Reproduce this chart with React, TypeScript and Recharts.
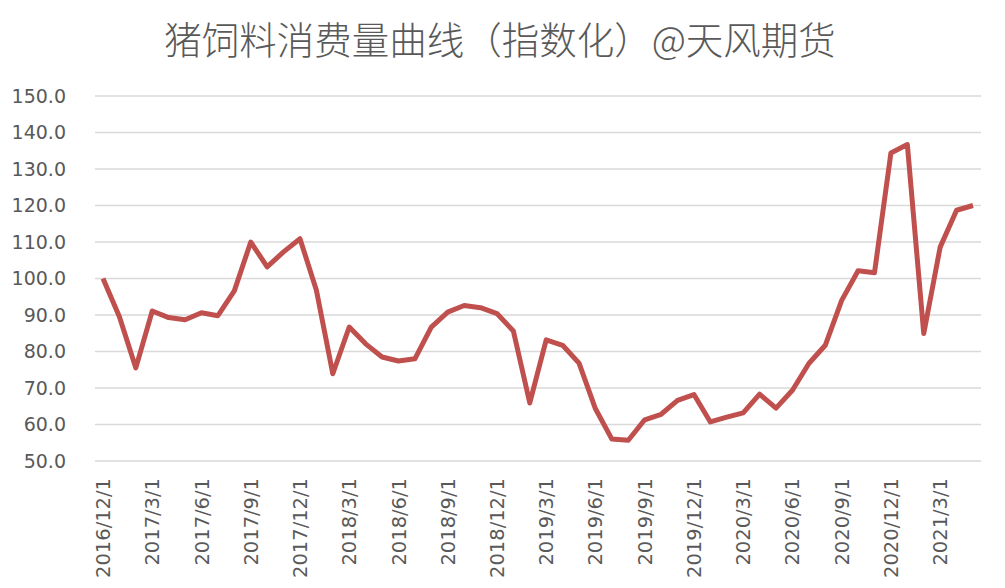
import { LineChart, Line, CartesianGrid, XAxis, YAxis } from "recharts";

const months = [
  "2016/12/1",
  "2017/1/1", "2017/2/1", "2017/3/1", "2017/4/1", "2017/5/1", "2017/6/1",
  "2017/7/1", "2017/8/1", "2017/9/1", "2017/10/1", "2017/11/1", "2017/12/1",
  "2018/1/1", "2018/2/1", "2018/3/1", "2018/4/1", "2018/5/1", "2018/6/1",
  "2018/7/1", "2018/8/1", "2018/9/1", "2018/10/1", "2018/11/1", "2018/12/1",
  "2019/1/1", "2019/2/1", "2019/3/1", "2019/4/1", "2019/5/1", "2019/6/1",
  "2019/7/1", "2019/8/1", "2019/9/1", "2019/10/1", "2019/11/1", "2019/12/1",
  "2020/1/1", "2020/2/1", "2020/3/1", "2020/4/1", "2020/5/1", "2020/6/1",
  "2020/7/1", "2020/8/1", "2020/9/1", "2020/10/1", "2020/11/1", "2020/12/1",
  "2021/1/1", "2021/2/1", "2021/3/1", "2021/4/1", "2021/5/1",
];

const feedIndex = [
  100.0,
  89.5, 75.5, 91.1, 89.3, 88.7, 90.6,
  89.8, 96.6, 110.0, 103.2, 107.3, 110.9,
  96.8, 73.9, 86.7, 82.1, 78.5, 77.4,
  78.0, 86.7, 90.8, 92.6, 92.0, 90.4,
  85.6, 65.9, 83.2, 81.7, 76.8, 64.3,
  56.0, 55.7, 61.3, 62.8, 66.6, 68.2,
  60.7, 62.0, 63.2, 68.3, 64.5, 69.4,
  76.7, 81.7, 94.0, 102.1, 101.6, 134.4,
  136.7, 84.9, 108.6, 118.7, 120.0,
];

const yTicks = [50, 60, 70, 80, 90, 100, 110, 120, 130, 140, 150];

const data = months.map((m, i) => ({ month: m, value: feedIndex[i] }));

const DateTick = (props: any) => {
  const { x, y, payload } = props;
  return (
    <g transform={`translate(${x},${y})`}>
      <text
        transform="rotate(-90)"
        textAnchor="end"
        dy="0.36em"
        fill="#595959"
        fontSize={19.5}
        fontFamily="DejaVu Sans"
      >
        {payload.value}
      </text>
    </g>
  );
};

export default function App() {
  return (
    <div
      style={{
        position: "absolute",
        left: 0,
        top: 0,
        width: 1005,
        height: 588,
        background: "#fff",
      }}
    >
      <div
        style={{
          position: "absolute",
          left: 0,
          top: 14,
          width: 1000,
          textAlign: "center",
          fontFamily: "Noto Sans CJK SC",
          fontWeight: 300,
          fontSize: 37.5,
          lineHeight: "48px",
          color: "#595959",
        }}
      >
        猪饲料消费量曲线（指数化）@天风期货
      </div>
      <LineChart
        width={1005}
        height={588}
        data={data}
        margin={{ top: 96, right: 24, left: 0, bottom: 0 }}
      >
        <CartesianGrid vertical={false} stroke="#D9D9D9" strokeWidth={1.5} />
        <XAxis
          dataKey="month"
          interval={2}
          height={127}
          axisLine={false}
          tickLine={false}
          tickSize={0}
          tickMargin={17}
          padding={{ left: 8, right: 8 }}
          tick={<DateTick />}
        />
        <YAxis
          domain={[50, 150]}
          ticks={yTicks}
          width={95}
          axisLine={false}
          tickLine={false}
          tickSize={0}
          tickMargin={29}
          tickFormatter={(v: number) => v.toFixed(1)}
          tick={{ fill: "#595959", fontSize: 19, fontFamily: "DejaVu Sans" }}
        />
        <Line
          type="linear"
          dataKey="value"
          stroke="#C0504D"
          strokeWidth={5}
          strokeLinejoin="round"
          dot={false}
          isAnimationActive={false}
        />
      </LineChart>
    </div>
  );
}
